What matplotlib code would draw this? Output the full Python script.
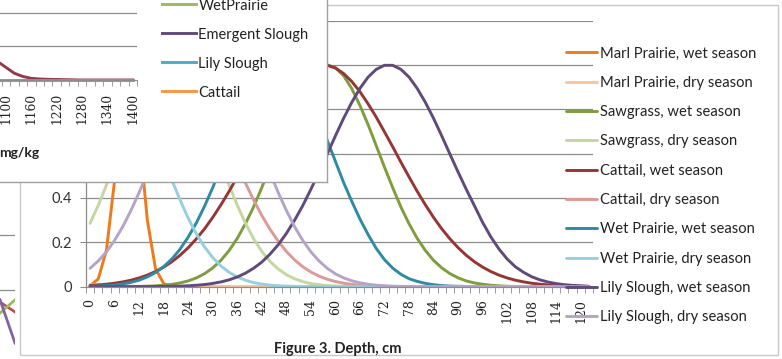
import matplotlib
matplotlib.use('Agg')
import matplotlib.pyplot as plt
from matplotlib.lines import Line2D
from matplotlib.patches import Rectangle

# ---------------- data: Figure 3 (relative frequency vs depth) ----------------
depth = [0, 2, 4, 6, 8, 10, 12, 14, 16, 18, 20, 22, 24, 26, 28, 30, 32, 34, 36, 38,
         40, 42, 44, 46, 48, 50, 52, 54, 56, 58, 60, 62, 64, 66, 68, 70, 72, 74, 76, 78,
         80, 82, 84, 86, 88, 90, 92, 94, 96, 98, 100, 102, 104, 106, 108, 110, 112, 114,
         116, 118, 120, 122]

marl_wet = [0.005, 0.035, 0.165, 0.48, 0.875, 0.985, 0.69, 0.30, 0.081, 0.014,
            0.001, 0, 0, 0, 0, 0, 0, 0, 0, 0,
            0, 0, 0, 0, 0, 0, 0, 0, 0, 0,
            0, 0, 0, 0, 0, 0, 0, 0, 0, 0,
            0, 0, 0, 0, 0, 0, 0, 0, 0, 0,
            0, 0, 0, 0, 0, 0, 0, 0, 0, 0,
            0, 0]
marl_dry = [0.01, 0.008, 0.006, 0.004, 0.003, 0.002, 0.001, 0.001, 0.001, 0.001,
            0.001, 0.001, 0.001, 0.001, 0.001, 0.001, 0.001, 0.001, 0.001, 0.001,
            0.001, 0.001, 0, 0, 0, 0, 0, 0, 0, 0,
            0, 0, 0, 0, 0, 0, 0, 0, 0, 0,
            0, 0, 0, 0, 0, 0, 0, 0, 0, 0,
            0, 0, 0, 0, 0, 0, 0, 0, 0, 0,
            0, 0]
sawgrass_wet = [0, 0, 0, 0.0001, 0.0002, 0.0007, 0.0013, 0.0022, 0.0039, 0.0065,
                0.0106, 0.0169, 0.0262, 0.0397, 0.0587, 0.0846, 0.119, 0.163, 0.218, 0.284,
                0.36, 0.447, 0.539, 0.635, 0.73, 0.817, 0.893, 0.951, 0.987, 1.0,
                0.987, 0.951, 0.893, 0.817, 0.73, 0.635, 0.539, 0.447, 0.36, 0.284,
                0.218, 0.163, 0.119, 0.085, 0.059, 0.040, 0.026, 0.017, 0.011, 0.0065,
                0.004, 0.002, 0.001, 0.0006, 0.0003, 0.0002, 0.0001, 0, 0, 0,
                0, 0]
sawgrass_dry = [0.286, 0.367, 0.458, 0.556, 0.657, 0.755, 0.844, 0.917, 0.969, 0.997,
                0.997, 0.969, 0.917, 0.844, 0.755, 0.657, 0.556, 0.458, 0.367, 0.286,
                0.216, 0.159, 0.114, 0.080, 0.054, 0.036, 0.023, 0.014, 0.009, 0.005,
                0.003, 0.002, 0.001, 0.0005, 0.0003, 0.0001, 0, 0, 0, 0,
                0, 0, 0, 0, 0, 0, 0, 0, 0, 0,
                0, 0, 0, 0, 0, 0, 0, 0, 0, 0,
                0, 0]
cattail_wet = [0.0056, 0.008, 0.0113, 0.0157, 0.0217, 0.0294, 0.0395, 0.0523, 0.0684, 0.0883,
               0.1125, 0.1416, 0.176, 0.216, 0.261, 0.3125, 0.369, 0.43, 0.495, 0.562,
               0.631, 0.698, 0.764, 0.824, 0.879, 0.925, 0.961, 0.986, 0.998, 0.998,
               0.986, 0.961, 0.925, 0.879, 0.824, 0.764, 0.698, 0.631, 0.562, 0.495,
               0.43, 0.369, 0.3125, 0.261, 0.216, 0.176, 0.1416, 0.1125, 0.0883, 0.0684,
               0.0523, 0.0395, 0.0294, 0.0217, 0.0157, 0.0113, 0.008, 0.0056, 0.0038, 0.0026,
               0.0017, 0.0011]
cattail_dry = [0.66, 0.716, 0.768, 0.817, 0.862, 0.902, 0.936, 0.964, 0.984, 0.996,
               1.0, 0.99, 0.963, 0.919, 0.861, 0.791, 0.713, 0.631, 0.548, 0.467,
               0.391, 0.321, 0.259, 0.205, 0.159, 0.121, 0.0904, 0.0663, 0.0477, 0.0337,
               0.0234, 0.0159, 0.0106, 0.007, 0.0045, 0.0028, 0.0017, 0.001, 0.0006, 0.0003,
               0, 0, 0, 0, 0, 0, 0, 0, 0, 0,
               0, 0, 0, 0, 0, 0, 0, 0, 0, 0,
               0, 0]
wetprairie_wet = [0.0017, 0.0029, 0.0048, 0.0078, 0.0125, 0.0194, 0.0296, 0.044, 0.0638, 0.0904,
                  0.125, 0.169, 0.224, 0.288, 0.363, 0.447, 0.537, 0.63, 0.722, 0.808,
                  0.882, 0.942, 0.982, 0.999, 0.993, 0.964, 0.914, 0.84, 0.755, 0.66,
                  0.565, 0.47, 0.385, 0.305, 0.235, 0.172, 0.122, 0.084, 0.056, 0.036,
                  0.024, 0.015, 0.009, 0.005, 0.003, 0.002, 0.001, 0.0005, 0.0002, 0.0001,
                  0, 0, 0, 0, 0, 0, 0, 0, 0, 0,
                  0, 0]
wetprairie_dry = [0.922, 0.971, 0.997, 0.997, 0.971, 0.922, 0.853, 0.768, 0.675, 0.577,
                  0.481, 0.391, 0.309, 0.238, 0.179, 0.131, 0.0934, 0.0649, 0.0439, 0.029,
                  0.0186, 0.0116, 0.0071, 0.0042, 0.0024, 0.0014, 0.0008, 0.0004, 0.0002, 0.0001,
                  0, 0, 0, 0, 0, 0, 0, 0, 0, 0,
                  0, 0, 0, 0, 0, 0, 0, 0, 0, 0,
                  0, 0, 0, 0, 0, 0, 0, 0, 0, 0,
                  0, 0]
lily_wet = [0, 0, 0, 0, 0, 0.0001, 0.0002, 0.0003, 0.0006, 0.001,
            0.0016, 0.0026, 0.0042, 0.0065, 0.0098, 0.0147, 0.0215, 0.031, 0.0439, 0.061,
            0.0833, 0.111, 0.1466, 0.189, 0.24, 0.299, 0.365, 0.439, 0.517, 0.598,
            0.68, 0.759, 0.831, 0.894, 0.945, 0.98, 0.998, 0.998, 0.98, 0.945,
            0.894, 0.831, 0.759, 0.68, 0.598, 0.517, 0.439, 0.365, 0.29, 0.225,
            0.17, 0.125, 0.09, 0.065, 0.045, 0.031, 0.021, 0.014, 0.009, 0.006,
            0.004, 0.002]
lily_dry = [0.083, 0.116, 0.157, 0.209, 0.271, 0.344, 0.425, 0.514, 0.607, 0.699,
            0.787, 0.865, 0.929, 0.974, 0.997, 0.997, 0.974, 0.929, 0.865, 0.787,
            0.699, 0.607, 0.514, 0.425, 0.344, 0.271, 0.209, 0.157, 0.116, 0.083,
            0.058, 0.0399, 0.0267, 0.0174, 0.0111, 0.0069, 0.0042, 0.0025, 0.0014, 0.0008,
            0, 0, 0, 0, 0, 0, 0, 0, 0, 0,
            0, 0, 0, 0, 0, 0, 0, 0, 0, 0,
            0, 0]

series_labels = ["Marl Prairie, wet season", "Marl Prairie, dry season",
                 "Sawgrass, wet season", "Sawgrass, dry season",
                 "Cattail, wet season", "Cattail, dry season",
                 "Wet Prairie, wet season", "Wet Prairie, dry season",
                 "Lily Slough, wet season", "Lily Slough, dry season"]
series_values = [marl_wet, marl_dry, sawgrass_wet, sawgrass_dry, cattail_wet,
                 cattail_dry, wetprairie_wet, wetprairie_dry, lily_wet, lily_dry]
series_colors = ["#EE7A1A", "#F9C49A", "#7F9C3E", "#C4D79F", "#963634",
                 "#DC9A96", "#2F8AA3", "#96CFDF", "#604A7B", "#B4A4C9"]
x_tick_values = [0, 6, 12, 18, 24, 30, 36, 42, 48, 54, 60, 66, 72, 78, 84, 90, 96,
                 102, 108, 114, 120]
y_tick_values = [0, 0.2, 0.4, 0.6, 0.8, 1.0, 1.2]
# labels above 0.4 lie under the overlapping panel in the reference
y_tick_labels = ["0", "0.2", "0.4", "", "", "", ""]

# ---------------- data: overlapping panel (another chart, partly visible) ----------------
tp_bins = [1080, 1100, 1120, 1140, 1160, 1180, 1200, 1220, 1240, 1260, 1280, 1300,
           1320, 1340, 1360, 1380, 1400]
tp_tick_values = [1100, 1160, 1220, 1280, 1340, 1400]
tp_first = [0.11, 0.075, 0.04, 0.021, 0.01, 0.006, 0.004, 0.003, 0.002, 0.001, 0,
            0, 0, 0, 0, 0, 0]
tp_lily = [0, 0, 0, 0, 0, 0, 0, 0, 0, 0, 0, 0, 0, 0, 0, 0, 0]
panel_labels = ["WetPrairie", "Emergent Slough", "Lily Slough", "Cattail"]
panel_colors = ["#9BBB59", "#604A7B", "#4BACC6", "#F79646"]

# ---------------- data: fragment of a third chart at the left edge ----------------
frag_x = [0, 1]
frag_red = [0.156, 0.12]
frag_green = [0.116, 0.164]
frag_purple = [0.164, 0.007]

# ---------------- figure ----------------
W, H = 782, 359
fig = plt.figure(figsize=(W / 100, H / 100), dpi=100)
fig.patch.set_facecolor('white')


def fx(px):
    return px / W


def fy(py):
    return 1 - py / H


GRID = '#8C8C8C'
LEG_FONT = ['Lato', 'DejaVu Sans']
SERIF = ['DejaVu Serif']

# outer frame of the main chart
fig.add_artist(Rectangle((fx(19.5), fy(355)), fx(778) - fx(19.5), fy(5) - fy(355),
                         transform=fig.transFigure, fill=False, ec='#C8C8C8', lw=1.0,
                         zorder=0))

# main axes
ax = fig.add_axes([fx(86), fy(286.7), fx(593) - fx(86), fy(20.5) - fy(286.7)], zorder=2)
ax.set_facecolor('none')
for lab, vals, col in zip(series_labels, series_values, series_colors):
    ax.plot(depth, vals, color=col, lw=2.1, label=lab, solid_capstyle='round',
            solid_joinstyle='round')
ax.set_xlim(-1, 123)
ax.set_ylim(0, 1.2)
ax.set_yticks(y_tick_values)
ax.set_yticklabels(y_tick_labels, fontsize=10.5, color='#333333', family=LEG_FONT)
ax.yaxis.grid(True, color=GRID, lw=0.9)
ax.set_axisbelow(True)
ax.set_xticks(x_tick_values)
ax.set_xticklabels([str(v) for v in x_tick_values], rotation=90, fontsize=9,
                   family=SERIF, color='#222222')
ax.set_xticks([v - 1 for v in depth] + [123], minor=True)
ax.tick_params(axis='x', which='major', length=0, pad=9)
ax.tick_params(axis='x', which='minor', length=4, color=GRID, direction='out')
ax.tick_params(axis='y', length=4, color=GRID, pad=6)
for s in ['top', 'right']:
    ax.spines[s].set_visible(False)
for s in ['left', 'bottom']:
    ax.spines[s].set_color(GRID)
    ax.spines[s].set_linewidth(0.9)

leg = ax.legend(loc='upper left', bbox_to_anchor=(fx(566), fy(46.5)),
                bbox_transform=fig.transFigure, frameon=False,
                prop={'family': LEG_FONT, 'size': 10.6}, handlelength=2.1,
                handletextpad=0.22, labelspacing=1.04, borderpad=0, borderaxespad=0)
for t in leg.get_texts():
    t.set_color('#222222')

fig.text(fx(338), fy(349), 'Figure 3. Depth, cm', ha='center', va='center',
         fontsize=10.5, fontweight='bold', family=LEG_FONT, color='#222222')

# fragment of another chart at the far left
lax = fig.add_axes([0, fy(359), fx(15), fy(183) - fy(359)], zorder=1)
lax.set_facecolor('none')
lax.plot(frag_x, frag_red, color='#C0504D', lw=2)
lax.plot(frag_x, frag_green, color='#9BBB59', lw=2)
lax.plot(frag_x, frag_purple, color='#8064A2', lw=2)
lax.set_xlim(0, 1)
lax.set_ylim(-0.051, 0.589)
lax.set_yticks([0.2, 0.4])
lax.yaxis.grid(True, color=GRID, lw=0.9)
lax.set_axisbelow(True)
lax.tick_params(left=False, bottom=False, labelleft=False, labelbottom=False)
for s in lax.spines.values():
    s.set_visible(False)

# overlapping white panel (top-left)
pax = fig.add_axes([0, fy(182), fx(327), fy(0) - fy(182)], zorder=10)
pax.set_facecolor('white')
pax.set_xticks([])
pax.set_yticks([])
for s in ['left', 'top']:
    pax.spines[s].set_visible(False)
for s in ['right', 'bottom']:
    pax.spines[s].set_color('#A0A0A0')
    pax.spines[s].set_linewidth(1.0)
pax.text(-1 / 327, 1 - 153 / 182, 'mg/kg', transform=pax.transAxes, ha='left',
         va='center', fontsize=10, fontweight='bold', family=LEG_FONT, color='#222222')

cax = fig.add_axes([0, fy(80), fx(137), fy(4.3) - fy(80)], zorder=11)
cax.set_facecolor('none')
cax.plot(tp_bins, tp_first, color='#943A4A', lw=2.1)
cax.plot(tp_bins, tp_lily, color=panel_colors[2], lw=2.1, clip_on=False)
cax.set_xlim(1086, 1410)
cax.set_ylim(0, 0.45)
cax.set_yticks([0.2, 0.4])
cax.yaxis.grid(True, color=GRID, lw=0.9)
cax.set_axisbelow(True)
cax.set_xticks(tp_tick_values)
cax.set_xticklabels([str(v) for v in tp_tick_values], rotation=90, fontsize=8.8,
                    family=SERIF, color='#222222')
cax.set_xticks([1090 + 20 * k for k in range(17)], minor=True)
cax.tick_params(axis='x', which='major', length=0, pad=9)
cax.tick_params(axis='x', which='minor', length=4, color=GRID)
cax.tick_params(axis='y', left=False, labelleft=False)
for s in ['top', 'right', 'left']:
    cax.spines[s].set_visible(False)
cax.spines['bottom'].set_color(GRID)

handles = [Line2D([0], [0], color=c, lw=2.1) for c in panel_colors]
pleg = cax.legend(handles, panel_labels, loc='upper left',
                  bbox_to_anchor=(fx(162), fy(-1.5)), bbox_transform=fig.transFigure,
                  frameon=False, prop={'family': LEG_FONT, 'size': 10.5},
                  handlelength=2.3, handletextpad=0.2, labelspacing=1.03,
                  borderpad=0, borderaxespad=0)
for t in pleg.get_texts():
    t.set_color('#222222')

fig.savefig('out.png', dpi=100, facecolor='white')
